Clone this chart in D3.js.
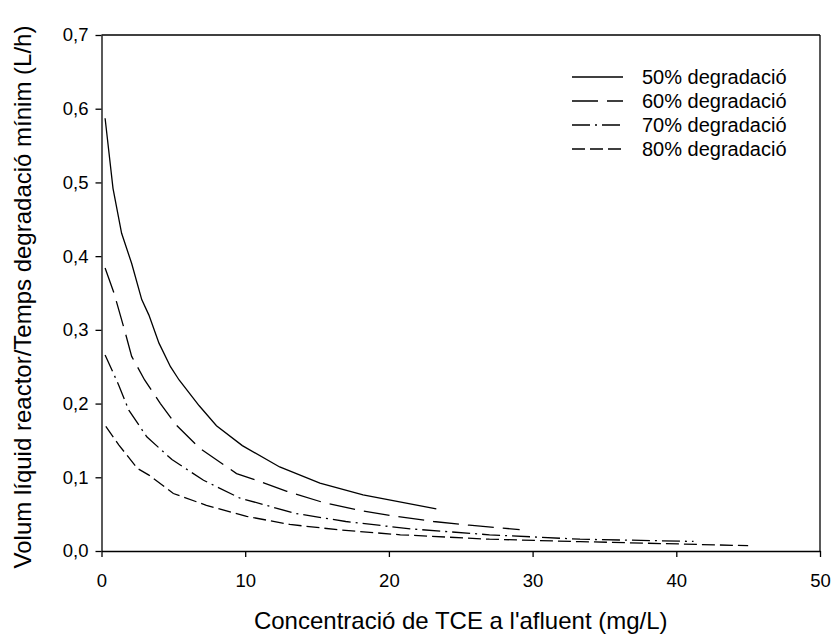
<!DOCTYPE html>
<html>
<head>
<meta charset="utf-8">
<script src="https://cdn.jsdelivr.net/npm/d3@7"></script>
<style>
  html, body { margin: 0; padding: 0; background: #fff; }
  svg { display: block; }
  text { font-family: "Liberation Sans", Arial, sans-serif; fill: #000; }
</style>
</head>
<body>
<svg id="chart" width="832" height="635"></svg>
<script>
// ---- data ----
const seriesNames = ["50% degradació", "60% degradació", "70% degradació", "80% degradació"];

const x50 = [0.25, 0.8, 1.4, 2.1, 2.8, 3.3, 4.0, 4.8, 5.4, 6.8, 8.0, 9.8, 12.4, 15.2, 18.2, 23.3];
const y50 = [0.587, 0.492, 0.431, 0.390, 0.341, 0.320, 0.282, 0.250, 0.232, 0.197, 0.170, 0.143, 0.114, 0.092, 0.076, 0.057];

const x60 = [0.25, 0.87, 1.6, 2.1, 3.0, 4.1, 5.2, 6.8, 9.4, 10.8, 12.9, 15.4, 18.0, 20.5, 23.1, 25.6, 29.1];
const y60 = [0.384, 0.350, 0.300, 0.264, 0.232, 0.200, 0.171, 0.140, 0.105, 0.096, 0.081, 0.066, 0.055, 0.047, 0.040, 0.035, 0.029];

const x70 = [0.25, 1.2, 1.9, 3.15, 4.9, 7.1, 9.6, 13.5, 17.0, 21.5, 27.0, 33.3, 41.2];
const y70 = [0.266, 0.225, 0.191, 0.155, 0.124, 0.096, 0.072, 0.051, 0.040, 0.030, 0.022, 0.016, 0.013];

const x80 = [0.3, 1.2, 2.5, 3.3, 5.0, 7.3, 10.1, 13.1, 16.6, 20.8, 27.0, 33.3, 40.3, 45.0];
const y80 = [0.169, 0.144, 0.112, 0.103, 0.078, 0.062, 0.047, 0.036, 0.0285, 0.022, 0.016, 0.0127, 0.0095, 0.0072];

const xTicks = [0, 10, 20, 30, 40, 50];
const yTicks = [0, 0.1, 0.2, 0.3, 0.4, 0.5, 0.6, 0.7];

const xTitle = "Concentració de TCE a l'afluent (mg/L)";
const yTitle = "Volum líquid reactor/Temps degradació mínim (L/h)";

// ---- layout ----
const svg = d3.select("#chart");
const mLeft = 101.5, mRight = 820, mTop = 35, mBottom = 551;

const x = d3.scaleLinear().domain([0, 50]).range([mLeft, mRight]);
const y = d3.scaleLinear().domain([0, 0.7]).range([mBottom, mTop]);

const dashes = [null, "26,9", "18,5,2,5", "13,5"];
const series = [
  { name: seriesNames[0], xs: x50, ys: y50 },
  { name: seriesNames[1], xs: x60, ys: y60 },
  { name: seriesNames[2], xs: x70, ys: y70 },
  { name: seriesNames[3], xs: x80, ys: y80 }
];

// frame (top & right)
svg.append("line").attr("x1", mLeft).attr("x2", mRight).attr("y1", mTop).attr("y2", mTop)
  .attr("stroke", "#000").attr("stroke-width", 1.3);
svg.append("line").attr("x1", mRight).attr("x2", mRight).attr("y1", mTop).attr("y2", mBottom)
  .attr("stroke", "#000").attr("stroke-width", 1.3);

// axes
const fmt = d3.format(".1f");
const xAxis = d3.axisBottom(x).tickValues(xTicks).tickSize(6).tickSizeOuter(0)
  .tickFormat(d => d3.format("d")(d));
const yAxis = d3.axisLeft(y).tickValues(yTicks).tickSize(6).tickSizeOuter(0).tickPadding(7)
  .tickFormat(d => fmt(d).replace(".", ","));

const gx = svg.append("g").attr("transform", `translate(0,${mBottom})`).call(xAxis);
const gy = svg.append("g").attr("transform", `translate(${mLeft},0)`).call(yAxis);
[gx, gy].forEach(g => {
  g.select(".domain").attr("stroke", "#000").attr("stroke-width", 1.3);
  g.selectAll(".tick line").attr("stroke", "#000").attr("stroke-width", 1.3);
  g.selectAll(".tick text").attr("font-size", 18.5).attr("font-family", "Liberation Sans, Arial, sans-serif").attr("fill", "#000");
});
gx.selectAll(".tick text").attr("y", 36).attr("dy", 0);

// lines
const line = d3.line().x(d => x(d[0])).y(d => y(d[1]));
series.forEach((s, i) => {
  const pts = s.xs.map((v, k) => [v, s.ys[k]]);
  svg.append("path").datum(pts).attr("d", line)
    .attr("fill", "none").attr("stroke", "#000").attr("stroke-width", 1.3)
    .attr("stroke-dasharray", dashes[i]);
});

// legend
series.forEach((s, i) => {
  const ly = 77 + i * 24;
  svg.append("line").attr("x1", 572).attr("x2", 623).attr("y1", ly).attr("y2", ly)
    .attr("stroke", "#000").attr("stroke-width", 1.3).attr("stroke-dasharray", dashes[i]);
  svg.append("text").attr("x", 642).attr("y", ly + 7).attr("font-size", 20).text(s.name);
});

// axis titles
svg.append("text").attr("x", (mLeft + mRight) / 2).attr("y", 629).attr("text-anchor", "middle")
  .attr("font-size", 24).text(xTitle);
svg.append("text").attr("transform", `translate(31,${(mTop + mBottom) / 2 + 4}) rotate(-90)`).attr("text-anchor", "middle")
  .attr("font-size", 24).text(yTitle);
</script>
</body>
</html>
